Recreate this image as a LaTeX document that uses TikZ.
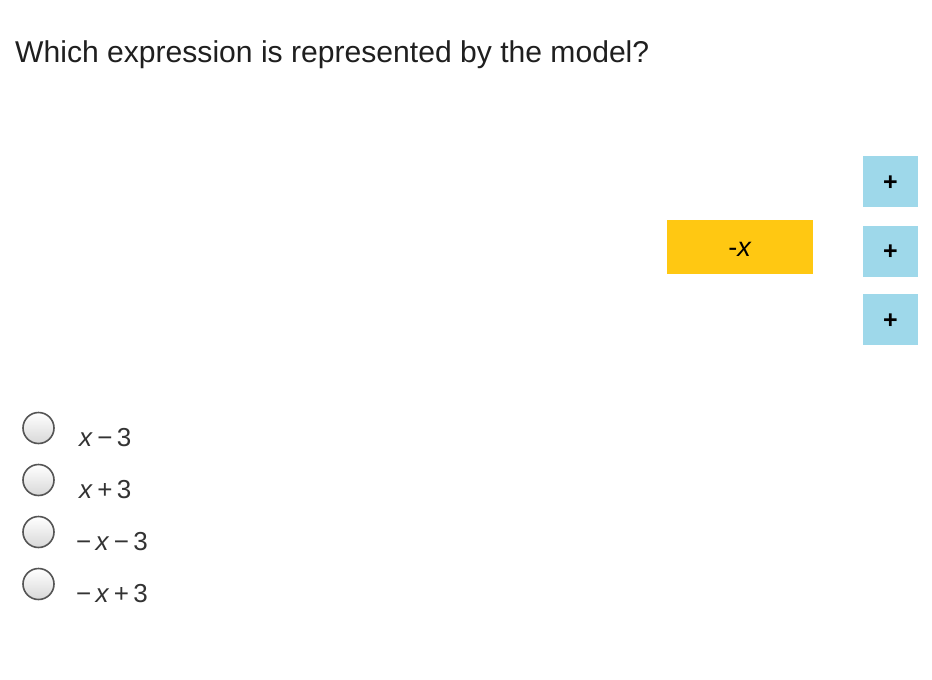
\documentclass[tikz,border=0pt]{standalone}
\usepackage{fontspec}
\setmainfont{Liberation Sans}
\begin{document}
\begin{tikzpicture}[x=1pt,y=-1pt,
  tile/.style={fill=tileblue, draw=none, minimum width=55pt, minimum height=51pt, inner sep=0pt, text height=17.5pt, text depth=0pt, font=\fontsize{25}{25}\selectfont\bfseries},
  xbar/.style={fill=tileyellow, draw=none, minimum width=146pt, minimum height=54pt, inner sep=0pt, text height=18pt, text depth=0pt, font=\fontsize{27}{27}\selectfont},
  radio/.style={circle, draw=radioedge, line width=1.6pt, minimum size=31pt, inner sep=0pt, top color=white, bottom color=radiogray},
  opt/.style={anchor=base west, inner sep=0pt, text=opttext, font=\fontsize{26}{26}\selectfont}]
\definecolor{tileblue}{HTML}{9ED8EA}
\definecolor{tileyellow}{HTML}{FFC812}
\definecolor{radioedge}{HTML}{555555}
\definecolor{radiogray}{HTML}{D8D8D8}
\definecolor{opttext}{HTML}{333333}
\useasboundingbox[fill=white] (0,0) rectangle (932,680);
\node[anchor=base west, inner sep=0pt, text=black!88, font=\fontsize{30.1}{30.1}\selectfont] (title) at (15,62) {Which expression is represented by the model?};
\node[xbar] (negx) at (740,247) {-\textit{x}};
\node[tile] (p1) at (890.5,181.5) {+};
\node[tile] (p2) at (890.5,251) {+};
\node[tile] (p3) at (890.5,319.5) {+};
\node[radio] (r1) at (38.5,428) {};
\node[radio] (r2) at (38.5,480) {};
\node[radio] (r3) at (38.5,532) {};
\node[radio] (r4) at (38.5,584) {};
\node[opt] (o1) at (79,446) {\textit{x}\,−\,3};
\node[opt] (o2) at (79,498) {\textit{x}\,+\,3};
\node[opt] (o3) at (76,550) {−\,\textit{x}\,−\,3};
\node[opt] (o4) at (76,602) {−\,\textit{x}\,+\,3};
\end{tikzpicture}
\end{document}
